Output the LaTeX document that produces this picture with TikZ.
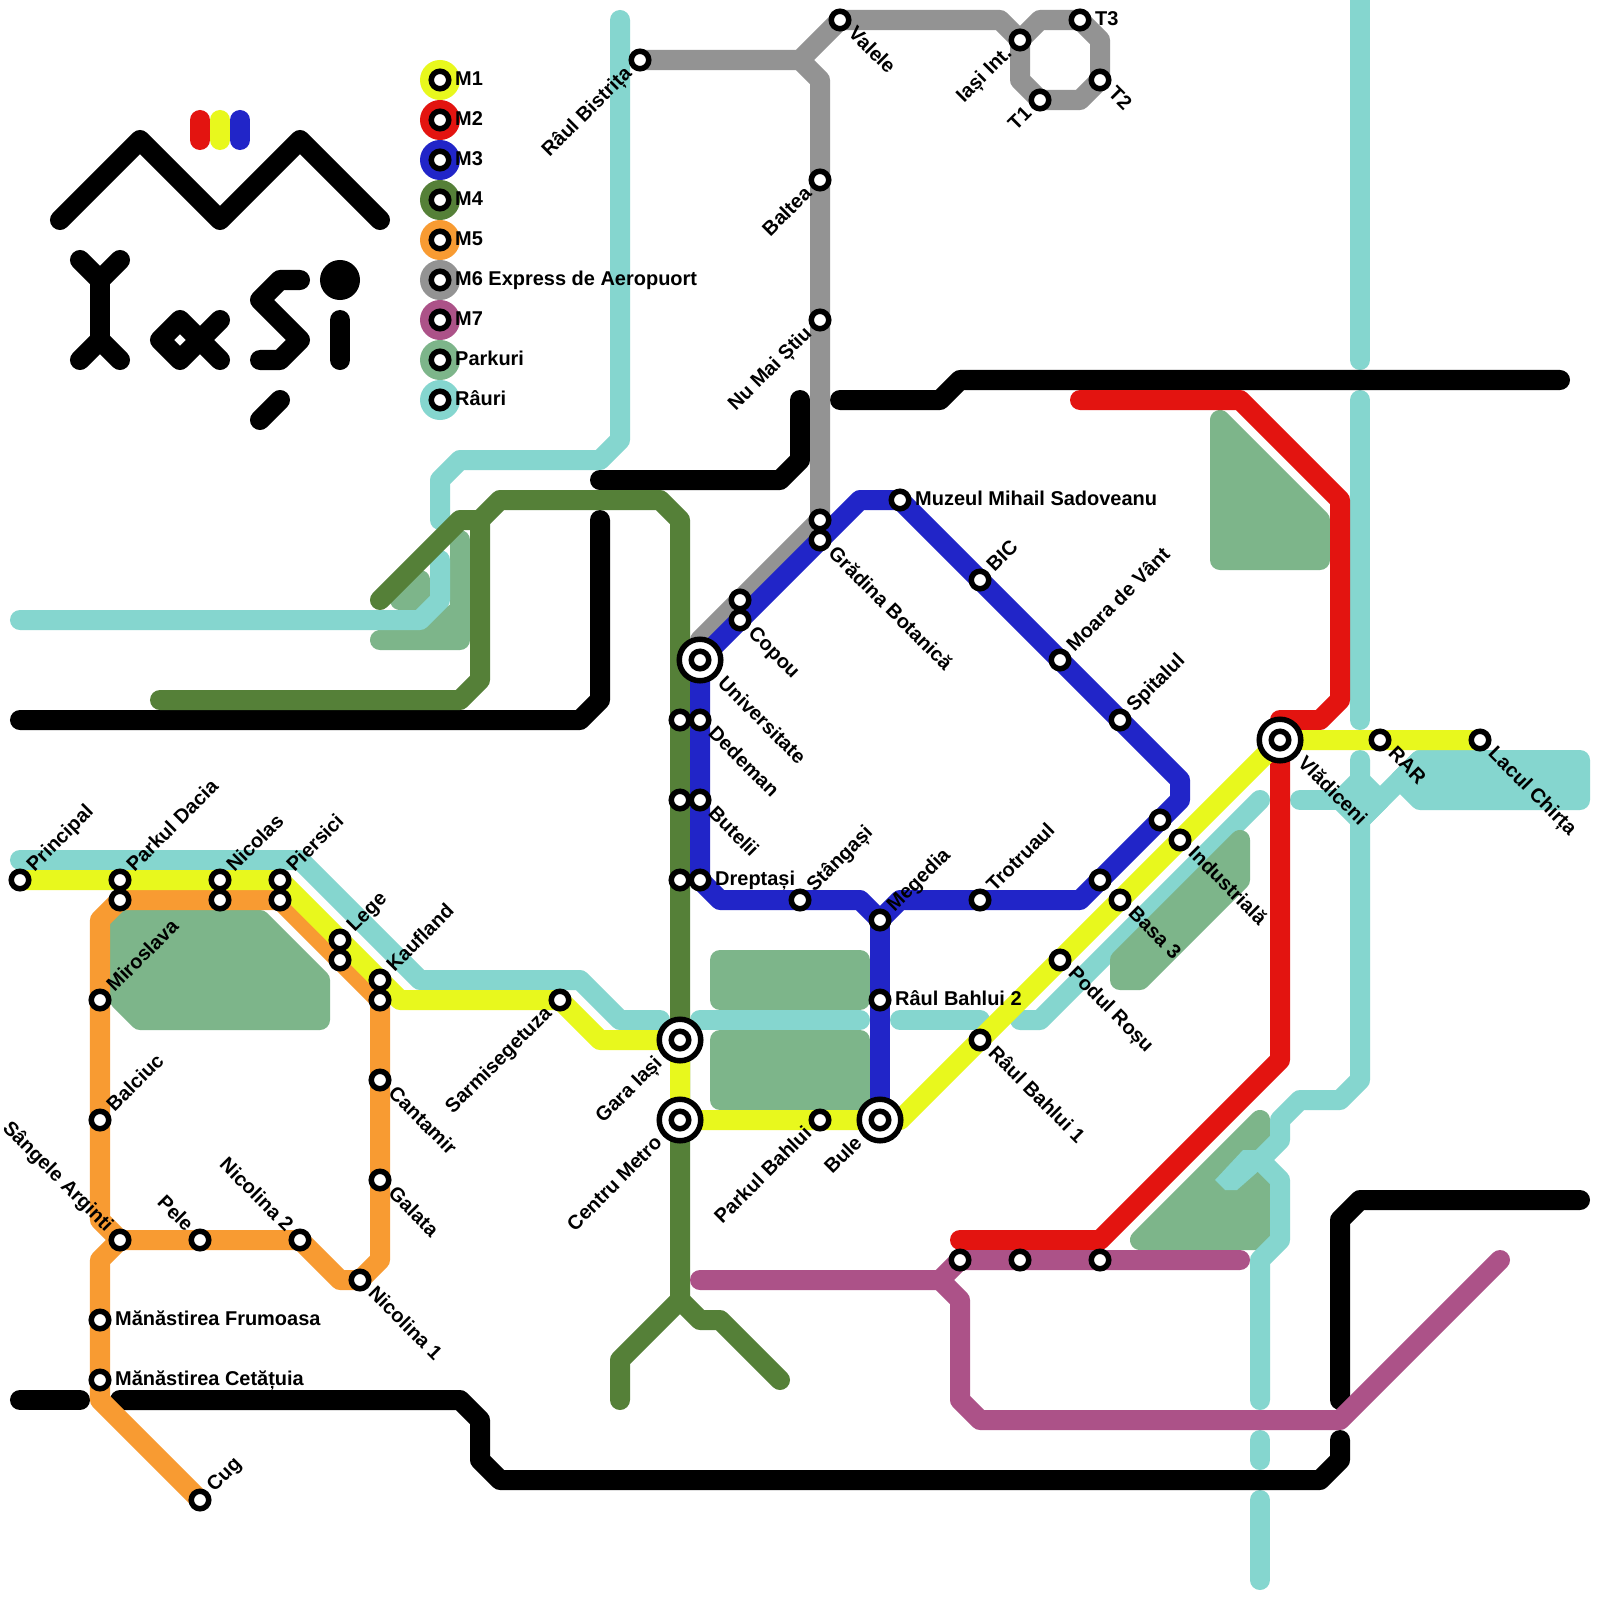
\documentclass[tikz,border=0pt]{standalone}
\usepackage{fontspec}
\setmainfont{Liberation Sans}
\definecolor{cyel}{HTML}{E8F81D}
\definecolor{cred}{HTML}{E31410}
\definecolor{cblu}{HTML}{2125C8}
\definecolor{cgrn}{HTML}{558038}
\definecolor{corg}{HTML}{F89B32}
\definecolor{cgry}{HTML}{939393}
\definecolor{cpur}{HTML}{AC5288}
\definecolor{cpark}{HTML}{7DB58A}
\definecolor{criv}{HTML}{85D6CF}
\pgfdeclarelayer{lines}
\pgfsetlayers{lines,main}
\tikzset{
 metro/.style={line width=.25cm,line cap=round,line join=round},
 park/.style={metro,draw=cpark,fill=cpark},
 riv/.style={metro,draw=criv},
 rivf/.style={metro,draw=criv,fill=criv},
 road/.style={metro,draw=black},
 stn/.style={circle,draw=black,fill=white,line width=.06875cm,minimum size=.21875cm,inner sep=0pt,outer sep=0pt},
 bigstn/.style={circle,draw=black,fill=white,line width=.06875cm,minimum size=.519cm,inner sep=0pt,outer sep=0pt},
 legdot/.style={circle,minimum size=.5cm,inner sep=0pt,outer sep=0pt},
 txt/.style={font=\fontsize{7.1}{8}\selectfont\bfseries,inner sep=0pt,outer sep=0pt,text height=.17cm,text depth=.04cm},
 lblE/.style={txt,xshift=.19cm,yshift=-.004cm,anchor=west},
 lblNE/.style={txt,xshift=.1375cm,yshift=.1375cm,rotate=45,anchor=west},
 lblSE/.style={txt,xshift=.1375cm,yshift=-.1375cm,rotate=-45,anchor=west},
 lblSW/.style={txt,xshift=-.1375cm,yshift=-.1375cm,rotate=45,anchor=east},
 lblNW/.style={txt,xshift=-.1375cm,yshift=.1375cm,rotate=-45,anchor=east},
 bigSE/.style={txt,xshift=.2575cm,yshift=-.2575cm,rotate=-45,anchor=west},
 bigSW/.style={txt,xshift=-.2575cm,yshift=-.2575cm,rotate=45,anchor=east},
}
\newcommand{\st}[3]{\node[stn] (#1) at (#2,#3) {};}
\newcommand{\stl}[5]{\node[stn] (#1) at (#2,#3) {}; \node[#4] (#1-l) at (#1.center) {#5};}
\newcommand{\bigst}[5]{\node[bigstn] (#1) at (#2,#3) {}; \node[stn] (#1-i) at (#2,#3) {}; \node[#4] (#1-l) at (#1.center) {#5};}
\begin{document}
\begin{tikzpicture}[x=0.0125cm,y=-0.0125cm]
\useasboundingbox (0,0) rectangle (1600,1600);

% legend
\foreach \y/\c/\n/\t in {80/cyel/a/M1,120/cred/b/M2,160/cblu/c/M3,200/cgrn/d/M4,240/corg/e/M5,280/cgry/f/M6 Express de Aeropuort,320/cpur/g/M7,360/cpark/h/Parkuri,400/criv/i/Râuri}{
  \node[legdot,fill=\c] (leg\n) at (440,\y) {};
  \node[stn] (legs\n) at (440,\y) {};
  \node[lblE] (legl\n) at (legs\n.center) {\t};
}

% stations
% M1
\stl{principal}{20}{880}{lblNE}{Principal}
\stl{dacia}{120}{880}{lblNE}{Parkul Dacia}
\stl{nicolas}{220}{880}{lblNE}{Nicolas}
\stl{piersici}{280}{880}{lblNE}{Piersici}
\stl{lege}{340}{940}{lblNE}{Lege}
\stl{kaufland}{380}{980}{lblNE}{Kaufland}
\stl{sarmi}{560}{1000}{lblSW}{Sarmisegetuza}
\bigst{gara}{680}{1040}{bigSW}{Gara Iași}
\bigst{centru}{680}{1120}{bigSW}{Centru Metro}
\stl{pbahlui}{820}{1120}{lblSW}{Parkul Bahlui}
\bigst{bule}{880}{1120}{bigSW}{Bule}
\stl{rb1}{980}{1040}{lblSE}{Râul Bahlui 1}
\stl{podul}{1060}{960}{lblSE}{Podul Roșu}
\stl{basa}{1120}{900}{lblSE}{Basa 3}
\stl{indus}{1180}{840}{lblSE}{Industrială}
\bigst{vlad}{1280}{740}{bigSE}{Vlădiceni}
\stl{rar}{1380}{740}{lblSE}{RAR}
\stl{chirta}{1480}{740}{lblSE}{Lacul Chirța}
% M5
\st{o1}{120}{900}
\st{o2}{220}{900}
\st{o3}{280}{900}
\st{o4}{340}{960}
\st{o5}{380}{1000}
\stl{miro}{100}{1000}{lblNE}{Miroslava}
\stl{balc}{100}{1120}{lblNE}{Balciuc}
\stl{sang}{120}{1240}{lblNW}{Sângele Arginti}
\stl{pele}{200}{1240}{lblNW}{Pele}
\stl{nic2}{300}{1240}{lblNW}{Nicolina 2}
\stl{nic1}{360}{1280}{lblSE}{Nicolina 1}
\stl{cant}{380}{1080}{lblSE}{Cantamir}
\stl{gala}{380}{1180}{lblSE}{Galata}
\stl{frum}{100}{1320}{lblE}{Mănăstirea Frumoasa}
\stl{cet}{100}{1380}{lblE}{Mănăstirea Cetățuia}
\stl{cug}{200}{1500}{lblNE}{Cug}
% M6
\stl{bist}{640}{60}{lblSW}{Râul Bistrița}
\stl{valele}{840}{20}{lblSE}{Valele}
\stl{iasi}{1020}{40}{lblSW}{Iași Int.}
\stl{t3}{1080}{20}{lblE}{T3}
\stl{t2}{1100}{80}{lblSE}{T2}
\stl{t1}{1040}{100}{lblSW}{T1}
\stl{baltea}{820}{180}{lblSW}{Baltea}
\stl{nums}{820}{320}{lblSW}{Nu Mai Știu}
\st{g1}{820}{520}
\st{g2}{740}{600}
% M3
\stl{muz}{900}{500}{lblE}{Muzeul Mihail Sadoveanu}
\stl{bic}{980}{580}{lblNE}{BIC}
\stl{moara}{1060}{660}{lblNE}{Moara de Vânt}
\stl{spit}{1120}{720}{lblNE}{Spitalul}
\st{b1}{1160}{820}
\st{b2}{1100}{880}
\stl{trot}{980}{900}{lblNE}{Trotruaul}
\stl{mege}{880}{920}{lblNE}{Megedia}
\stl{rb2}{880}{1000}{lblE}{Râul Bahlui 2}
\stl{stang}{800}{900}{lblNE}{Stângași}
\stl{drep}{700}{880}{lblE}{Dreptași}
\stl{but}{700}{800}{lblSE}{Butelii}
\stl{ded}{700}{720}{lblSE}{Dedeman}
\bigst{univ}{700}{660}{bigSE}{Universitate}
\stl{copou}{740}{620}{lblSE}{Copou}
\stl{grad}{820}{540}{lblSE}{Grădina Botanică}
% M4
\st{v1}{680}{720}
\st{v2}{680}{800}
\st{v3}{680}{880}
% M7
\st{p1}{960}{1260}
\st{p2}{1020}{1260}
\st{p3}{1100}{1260}
% free line ends
\coordinate (m2e) at (1080,400);
\coordinate (m2s) at (960,1240);
\coordinate (m4a) at (380,600);
\coordinate (m4b) at (160,700);
\coordinate (m4c) at (620,1400);
\coordinate (m4d) at (780,1380);
\coordinate (m7a) at (700,1280);
\coordinate (m7b) at (1240,1260);
\coordinate (m7c) at (1500,1260);

\begin{pgfonlayer}{lines}
\fill[white] (0,0) rectangle (1600,1600);
% parks
\path[park] (120,920) -- (260,920) -- (320,980) -- (320,1020) -- (140,1020) -- (120,1000) -- cycle;
\path[park] (1220,420) -- (1320,520) -- (1320,560) -- (1220,560) -- cycle;
\path[park] (720,960) -- (860,960) -- (860,1000) -- (720,1000) -- cycle;
\path[park] (720,1040) -- (860,1040) -- (860,1100) -- (720,1100) -- cycle;
\path[park] (1140,1240) -- (1260,1120) -- (1260,1240) -- cycle;
\path[park] (400,600) -- (420,580) -- (420,600) -- cycle;
\path[park] (380,640) -- (460,640) -- (460,540) -- (460,610) -- (430,630) -- cycle;
% rivers
\draw[riv] (620,20) -- (620,440) -- (600,460) -- (460,460) -- (440,480) -- (440,520);
\draw[riv] (20,620) -- (420,620) -- (440,600) -- (440,560);
\draw[riv] (20,860) -- (300,860) -- (420,980) -- (580,980) -- (620,1020) -- (660,1020);
\draw[riv] (700,1020) -- (860,1020);
\draw[riv] (900,1020) -- (980,1020);
\draw[riv] (1020,1020) -- (1040,1020) -- (1260,800);
\draw[riv] (1360,0) -- (1360,360);
\draw[riv] (1360,400) -- (1360,720);
\draw[riv] (1360,760) -- (1360,1080) -- (1340,1100) -- (1300,1100) -- (1280,1120) -- (1280,1140) -- (1260,1160) -- (1280,1180) -- (1280,1240) -- (1260,1260) -- (1260,1400);
\draw[riv] (1260,1440) -- (1260,1460);
\draw[riv] (1260,1500) -- (1260,1580);
\draw[riv] (1300,800) -- (1340,800);
\path[rivf] (1340,800) -- (1360,780) -- (1380,800) -- (1360,820) -- cycle;
\draw[riv] (1360,820) -- (1420,760);
\path[rivf] (1420,760) -- (1580,760) -- (1580,800) -- (1420,800) -- (1400,780) -- cycle;
\fill[criv] (1243,1150) -- (1215,1180) -- (1225,1190) -- (1237,1190) -- (1262,1168) -- (1262,1150) -- cycle;
\path[park] (1240,840) -- (1240,880) -- (1140,980) -- (1120,980) -- (1120,960) -- cycle;
% black
\draw[road] (20,720) -- (580,720) -- (600,700) -- (600,520);
\draw[road] (600,480) -- (780,480) -- (800,460) -- (800,400);
\draw[road] (840,400) -- (940,400) -- (960,380) -- (1560,380);
\draw[road] (20,1400) -- (80,1400);
\draw[road] (120,1400) -- (460,1400) -- (480,1420) -- (480,1460) -- (500,1480) -- (1320,1480) -- (1340,1460) -- (1340,1440);
\draw[road] (1340,1400) -- (1340,1220) -- (1360,1200) -- (1580,1200);
% logo
\draw[road] (60,220) -- (140,140) -- (220,220) -- (300,140) -- (380,220);
\draw[metro,cred] (200,120) -- (200,140);
\draw[metro,cyel] (220,120) -- (220,140);
\draw[metro,cblu] (240,120) -- (240,140);
\draw[road] (80,260) -- (100,280) -- (120,260);
\draw[road] (100,280) -- (100,340);
\draw[road] (80,360) -- (100,340) -- (120,360);
\draw[road] (220,320) -- (180,360) -- (160,340) -- (180,320) -- (220,360);
\draw[road] (300,280) -- (280,280) -- (260,300) -- (300,340) -- (280,360) -- (260,360);
\draw[road] (260,420) -- (280,400);
\fill[black] (340,280) circle [radius=.25cm];
\draw[road] (340,320) -- (340,360);
% M4
\draw[metro,cgrn] (m4a) -- (460,520) -- (480,520) -- (480,680) -- (460,700) -- (m4b);
\draw[metro,cgrn] (480,520) -- (500,500) -- (660,500) -- (680,520) -- (v1.center) -- (v2.center) -- (v3.center) -- (gara.center) -- (centru.center) -- (680,1300) -- (620,1360) -- (m4c);
\draw[metro,cgrn] (680,1300) -- (700,1320) -- (720,1320) -- (m4d);
% M6
\draw[metro,cgry] (bist.center) -- (800,60) -- (valele.center) -- (1000,20) -- (iasi.center) -- (1040,20) -- (t3.center) -- (1100,40) -- (t2.center) -- (1080,100) -- (t1.center) -- (1020,80) -- (iasi.center);
\draw[metro,cgry] (800,60) -- (820,80) -- (baltea.center) -- (nums.center) -- (g1.center) -- (g2.center) -- (700,640) -- (univ.center);
% M3
\draw[metro,cblu] (mege.center) -- (rb2.center) -- (bule.center);
\draw[metro,cblu] (muz.center) -- (860,500) -- (grad.center) -- (copou.center) -- (univ.center) -- (ded.center) -- (but.center) -- (drep.center) -- (720,900) -- (stang.center) -- (860,900) -- (mege.center) -- (900,900) -- (trot.center) -- (1080,900) -- (b2.center) -- (b1.center) -- (1180,800) -- (1180,780) -- (spit.center) -- (moara.center) -- (bic.center) -- (muz.center);
% M5
\draw[metro,corg] (o1.center) -- (o2.center) -- (o3.center) -- (o4.center) -- (o5.center) -- (cant.center) -- (gala.center) -- (380,1260) -- (nic1.center) -- (340,1280) -- (nic2.center) -- (pele.center) -- (sang.center) -- (100,1220) -- (balc.center) -- (miro.center) -- (100,920) -- cycle;
\draw[metro,corg] (sang.center) -- (100,1260) -- (frum.center) -- (cet.center) -- (100,1400) -- (cug.center);
% M2
\draw[metro,cred] (m2e) -- (1240,400) -- (1340,500) -- (1340,700) -- (1320,720) -- (1280,720) -- (1280,1060) -- (1100,1240) -- (m2s);
% M7
\draw[metro,cpur] (m7a) -- (940,1280) -- (p1.center) -- (p2.center) -- (p3.center) -- (m7b);
\draw[metro,cpur] (940,1280) -- (960,1300) -- (960,1400) -- (980,1420) -- (1340,1420) -- (m7c);
% M1
\draw[metro,cyel] (principal.center) -- (dacia.center) -- (nicolas.center) -- (piersici.center) -- (lege.center) -- (kaufland.center) -- (400,1000) -- (sarmi.center) -- (600,1040) -- (gara.center) -- (centru.center) -- (pbahlui.center) -- (bule.center) -- (900,1120) -- (rb1.center) -- (podul.center) -- (basa.center) -- (indus.center) -- (vlad.center) -- (rar.center) -- (chirta.center);
\end{pgfonlayer}
\end{tikzpicture}
\end{document}
